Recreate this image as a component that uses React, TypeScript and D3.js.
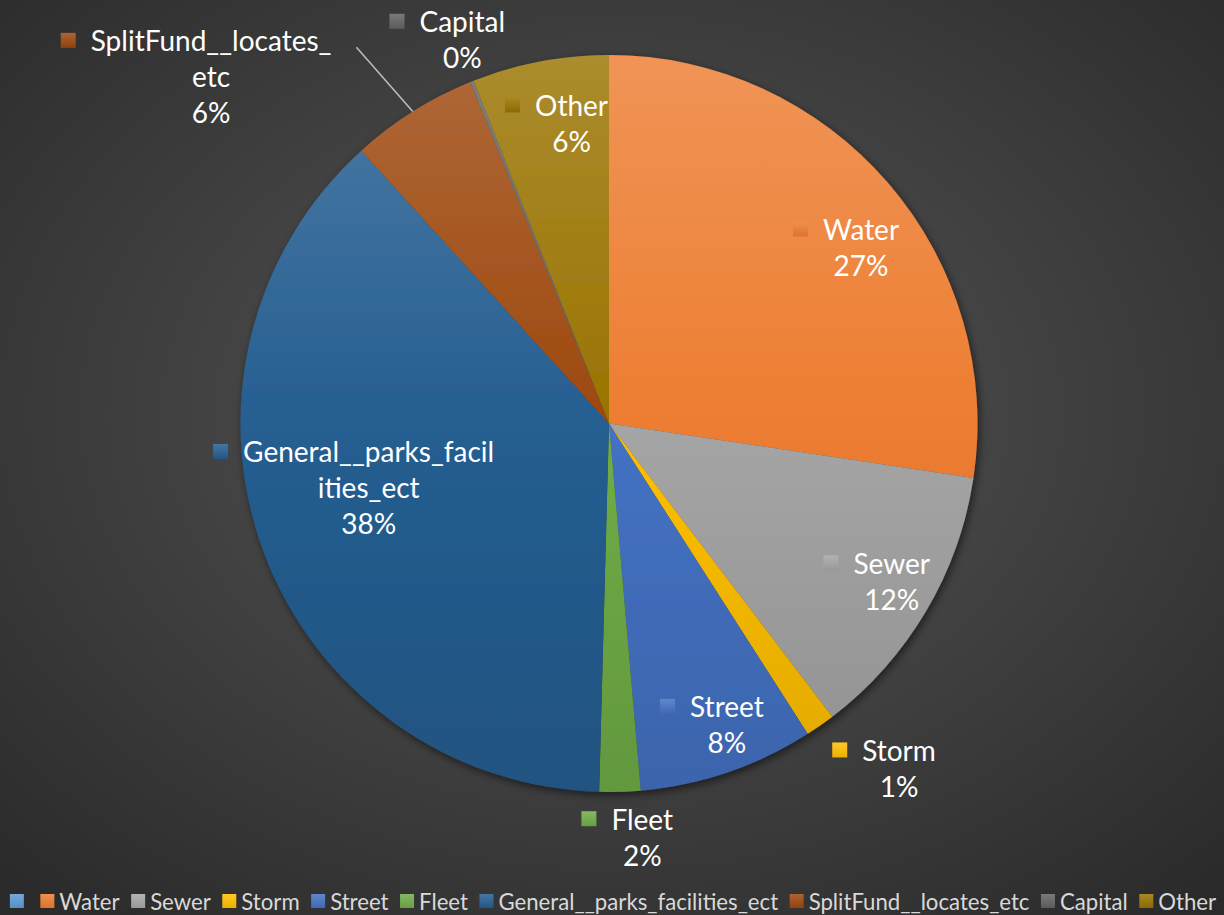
import React, { useEffect, useRef } from 'react';
import * as d3 from 'd3';

const categories = ['', 'Water', 'Sewer', 'Storm', 'Street', 'Fleet', 'General__parks_facilities_ect', 'SplitFund__locates_etc', 'Capital', 'Other'];
const values = [0, 27.4, 12.3, 1.3, 7.7, 1.8, 37.9, 5.6, 0.15, 6.0];
const labelLines = [[], ['Water'], ['Sewer'], ['Storm'], ['Street'], ['Fleet'], ['General__parks_facil', 'ities_ect'], ['SplitFund__locates_', 'etc'], ['Capital'], ['Other']];
const colors = ['#5b9bd5', '#ed7d31', '#a5a5a5', '#ffc000', '#4472c4', '#70ad47', '#255e91', '#9e480e', '#636363', '#997300'];
// label block placement (fraction of radius, angle in degrees clockwise from 12 o'clock)
const labelRadius = [0, 0.835, 0.878, 1.222, 0.877, 1.125, 0.675, 1.433, 1.116, 0.822];
const labelAngle = [0, 55.0, 119.1, 139.9, 158.6, 175.4, 255.1, 311.1, 339.1, 352.9];
const leaderFor = [7];

const W = 1224, H = 915;
const CX = 609, CY = 423.5, R = 368.5;
const LABEL_FONT = 28;
const LEGEND_FONT = 22.2;
const FONT = 'Lato, "Open Sans", sans-serif';

export default function App() {
  const ref = useRef<SVGSVGElement>(null);
  useEffect(() => {
    const svg = d3.select(ref.current);
    svg.selectAll('*').remove();
    const defs = svg.append('defs');
    const bg = defs.append('radialGradient').attr('id', 'bg').attr('cx', '50%').attr('cy', '45%').attr('r', '72%');
    bg.append('stop').attr('offset', '0%').attr('stop-color', '#575757');
    bg.append('stop').attr('offset', '100%').attr('stop-color', '#2a2a2a');
    svg.append('rect').attr('width', W).attr('height', H).attr('fill', 'url(#bg)');

    const sh = defs.append('filter').attr('id', 'shadow').attr('x', '-10%').attr('y', '-10%').attr('width', '120%').attr('height', '120%');
    sh.append('feDropShadow').attr('dx', 2).attr('dy', 3).attr('stdDeviation', 4).attr('flood-color', '#000').attr('flood-opacity', 0.55);

    colors.forEach((c, i) => {
      const g = defs.append('linearGradient').attr('id', 'sg' + i).attr('gradientUnits', 'userSpaceOnUse')
        .attr('x1', 0).attr('x2', 0).attr('y1', -R).attr('y2', R);
      g.append('stop').attr('offset', '0%').attr('stop-color', d3.interpolateRgb(c, '#ffffff')(0.18));
      g.append('stop').attr('offset', '50%').attr('stop-color', c);
      g.append('stop').attr('offset', '100%').attr('stop-color', d3.interpolateRgb(c, '#000000')(0.12));
      const k = defs.append('linearGradient').attr('id', 'kg' + i).attr('x1', 0).attr('x2', 0).attr('y1', 0).attr('y2', 1);
      k.append('stop').attr('offset', '0%').attr('stop-color', d3.interpolateRgb(c, '#ffffff')(0.15));
      k.append('stop').attr('offset', '100%').attr('stop-color', d3.interpolateRgb(c, '#000000')(0.08));
    });

    const total = d3.sum(values);
    const pie = d3.pie<number>().sort(null).value(d => d)(values);
    const arc = d3.arc<d3.PieArcDatum<number>>().innerRadius(0).outerRadius(R);
    const gPie = svg.append('g').attr('transform', `translate(${CX},${CY})`).attr('filter', 'url(#shadow)');
    gPie.selectAll('path').data(pie).join('path')
      .attr('d', d => arc(d) as string)
      .attr('fill', (d, i) => `url(#sg${i})`);

    const fmt = d3.format('.0%');
    const gLab = svg.append('g').attr('font-family', FONT).attr('fill', '#ffffff');
    pie.forEach((d, i) => {
      if (!labelLines[i].length) return;
      const a = (labelAngle[i] * Math.PI) / 180;
      const lx = CX + labelRadius[i] * R * Math.sin(a);
      const ly = CY - labelRadius[i] * R * Math.cos(a);
      const lines = [...labelLines[i], fmt(values[i] / total)];
      const lh = 36;
      const y0 = ly - ((lines.length - 1) * lh) / 2;
      const g = gLab.append('g');
      let maxW = 0;
      const texts = lines.map((t, j) =>
        g.append('text').attr('x', lx).attr('y', y0 + j * lh).attr('text-anchor', 'middle')
          .attr('dominant-baseline', 'central').attr('font-size', LABEL_FONT).text(t));
      const w0 = (texts[0].node() as SVGTextElement).getComputedTextLength();
      texts.forEach(t => { maxW = Math.max(maxW, (t.node() as SVGTextElement).getComputedTextLength()); });
      const ks = 15;
      g.append('rect').attr('x', lx - maxW / 2 - 15 - ks).attr('y', y0 - ks / 2).attr('width', ks).attr('height', ks)
        .attr('fill', `url(#kg${i})`);
      if (leaderFor.includes(i)) {
        const ma = (d.startAngle + d.endAngle) / 2;
        const ex = CX + R * Math.sin(ma), ey = CY - R * Math.cos(ma);
        svg.append('line').attr('x1', lx + w0 / 2 + 25).attr('y1', y0 + 7).attr('x2', ex).attr('y2', ey)
          .attr('stroke', '#bfbfbf').attr('stroke-width', 1.5);
      }
    });

    // legend
    const gLeg = svg.append('g').attr('font-family', FONT).attr('font-size', LEGEND_FONT).attr('fill', '#d9d9d9');
    let x = 0;
    const ly = 901;
    const ks = 14;
    categories.forEach((c, i) => {
      gLeg.append('rect').attr('x', x).attr('y', ly - ks / 2).attr('width', ks).attr('height', ks).attr('fill', `url(#kg${i})`);
      const t = gLeg.append('text').attr('x', x + ks + 5).attr('y', ly).attr('dominant-baseline', 'central').text(c);
      const tw = c ? (t.node() as SVGTextElement).getComputedTextLength() : 0;
      x += ks + 5 + tw + (i < categories.length - 1 ? 11.5 : 0);
    });
    gLeg.attr('transform', `translate(${613 - x / 2},0)`);
  }, []);
  return <svg ref={ref} width={W} height={H} style={{ position: 'absolute', left: 0, top: 0, display: 'block' }} />;
}
